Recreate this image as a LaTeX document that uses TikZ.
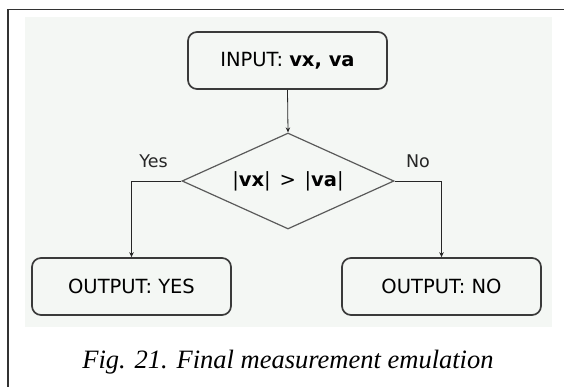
\documentclass[tikz,border=0pt]{standalone}
\usepackage{fontspec}
\setmainfont{Liberation Serif}
\newfontfamily\flowfont{DejaVu Sans}
\usetikzlibrary{arrows.meta,shapes.geometric}
\definecolor{panelbg}{HTML}{F4F7F4}
\definecolor{boxline}{HTML}{3A3A3A}
\definecolor{diamline}{HTML}{5A5A5A}
\tikzset{
  flowbox/.style={draw=boxline, line width=1.7pt, rounded corners=9pt, fill=panelbg,
    font=\flowfont\fontsize{19.5}{22}\selectfont, inner sep=0pt},
  decision/.style={draw=diamline, line width=1.2pt, diamond, aspect=2.2, fill=panelbg,
    font=\flowfont\fontsize{19.5}{22}\selectfont, inner sep=0pt},
  link/.style={draw=black!85, line width=0.8pt, -{Stealth[length=5pt,width=4.5pt]}},
  branchlabel/.style={font=\flowfont\fontsize{17.5}{20}\selectfont, text=black!85},
}
\begin{document}
\begin{tikzpicture}[x=1pt,y=-1pt]
  \useasboundingbox (0,0) rectangle (564,387);
  % page frame and shaded panel
  \draw[line width=1.7pt, draw=black!80] (8,387) -- (8,9.5) -- (564,9.5);
  \fill[panelbg] (25,17) rectangle (552,327);
  % nodes
  \node[flowbox, minimum width=199pt, minimum height=57pt] (in) at (287.5,60.5) {INPUT: \textbf{vx, va}};
  \node[decision, minimum width=212pt, minimum height=96pt] (cmp) at (288,181) {|\textbf{vx}|\hspace{0.45em}>\hspace{0.45em}|\textbf{va}|};
  \node[flowbox, minimum width=199pt, minimum height=57pt] (yes) at (131.5,286.5) {OUTPUT: YES};
  \node[flowbox, minimum width=199pt, minimum height=57pt] (no) at (441.5,286.5) {OUTPUT: NO};
  % connectors
  \draw[link] (in.south) -- (cmp.north);
  \draw[link] (cmp.west) -| (yes.north);
  \draw[link] (cmp.east) -| (no.north);
  \node[branchlabel] (ylab) at (153.5,161) {Yes};
  \node[branchlabel] (nlab) at (418,161) {No};
  % caption
  \node[font=\itshape\fontsize{26.5}{30}\selectfont] (cap) at (288,362) {Fig. 21. Final measurement emulation};
\end{tikzpicture}
\end{document}
